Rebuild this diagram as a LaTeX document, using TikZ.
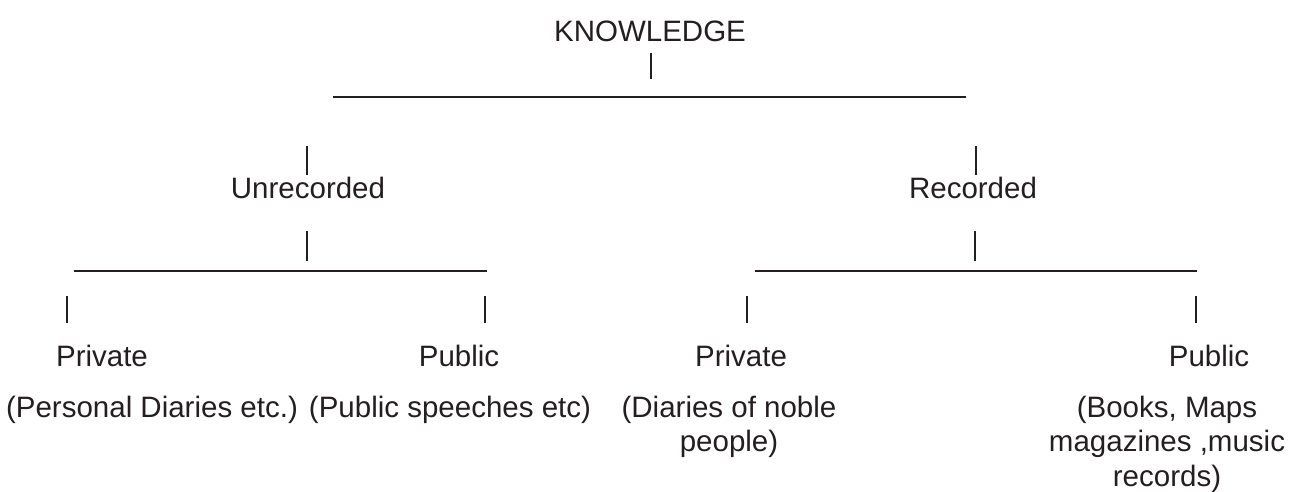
\documentclass[tikz,border=0pt]{standalone}
\usepackage{fontspec}
\setmainfont{Liberation Sans}
\definecolor{ink}{HTML}{231F20}
\begin{document}
\begin{tikzpicture}[x=1pt,y=-1pt,
  lbl/.style={inner sep=0pt,anchor=base,text=ink,font=\fontsize{29.5}{34.5}\selectfont},
  desc/.style={lbl,align=center,anchor=north},
  bar/.style={draw=ink,line width=2.2pt},
  rule/.style={draw=ink,line width=2pt}]
\useasboundingbox (0,0) rectangle (1292,491);
% nodes
\node[lbl] (K) at (650,41) {KNOWLEDGE};
\node[lbl] (U) at (308,198) {Unrecorded};
\node[lbl] (R) at (973,198) {Recorded};
\node[lbl] (P1) at (102,366) {Private};
\node[lbl] (Q1) at (459,366) {Public};
\node[lbl] (P2) at (741,366) {Private};
\node[lbl] (Q2) at (1209,366) {Public};
\node[desc] (dP1) at (152,395.5) {(Personal Diaries etc.)};
\node[desc] (dQ1) at (450,395.5) {(Public speeches etc)};
\node[desc] (dP2) at (729,395.5) {(Diaries of noble\\people)};
\node[desc] (dQ2) at (1167,395.5) {(Books, Maps\\magazines ,music\\records)};
% coordinates of the connector pieces
\coordinate (k1) at (651,53); \coordinate (k2) at (651,79);
\coordinate (h1a) at (333,97); \coordinate (h1b) at (966,97);
\coordinate (u1) at (307,146); \coordinate (u2) at (307,175);
\coordinate (r1) at (976,146); \coordinate (r2) at (976,175);
\coordinate (ua) at (307,231); \coordinate (ub) at (307,261);
\coordinate (ra) at (975,231); \coordinate (rb) at (975,261);
\coordinate (h2a) at (74,271); \coordinate (h2b) at (487,271);
\coordinate (h3a) at (755,271); \coordinate (h3b) at (1197,271);
\coordinate (p1a) at (67,296); \coordinate (p1b) at (67,323);
\coordinate (q1a) at (485,296); \coordinate (q1b) at (485,323);
\coordinate (p2a) at (747,296); \coordinate (p2b) at (747,323);
\coordinate (q2a) at (1196,296); \coordinate (q2b) at (1196,323);
% connectors
\draw[bar] (k1) -- (k2);
\draw[rule] (h1a) -- (h1b);
\draw[bar] (u1) -- (u2);
\draw[bar] (r1) -- (r2);
\draw[bar] (ua) -- (ub);
\draw[bar] (ra) -- (rb);
\draw[rule] (h2a) -- (h2b);
\draw[rule] (h3a) -- (h3b);
\draw[bar] (p1a) -- (p1b);
\draw[bar] (q1a) -- (q1b);
\draw[bar] (p2a) -- (p2b);
\draw[bar] (q2a) -- (q2b);
\end{tikzpicture}
\end{document}
